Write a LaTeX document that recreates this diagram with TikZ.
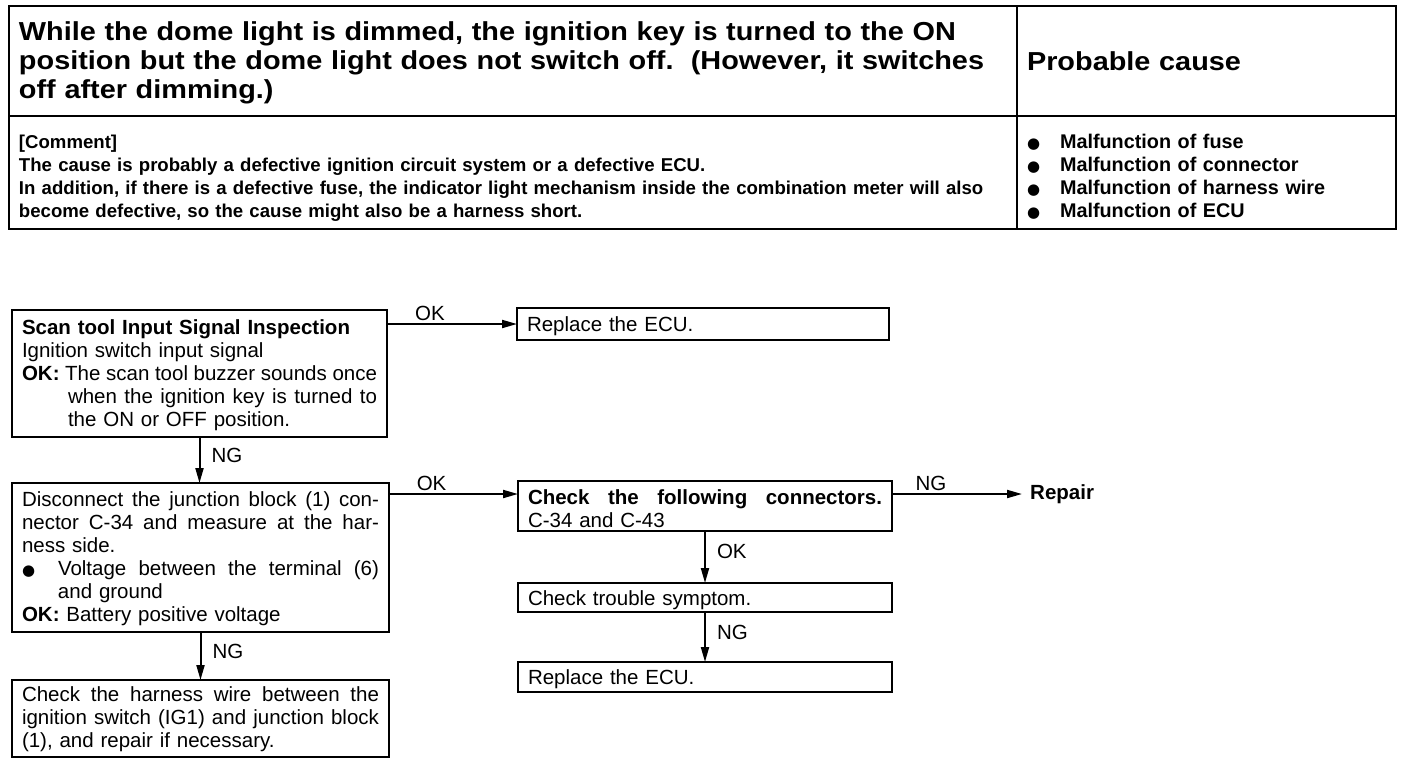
\documentclass[tikz,border=0pt]{standalone}
\usepackage{fontspec}
\setmainfont{Liberation Sans}
\newfontfamily\widesans[FakeStretch=1.11]{Liberation Sans}
\newfontfamily\dejavu{DejaVu Sans}
\usetikzlibrary{positioning,arrows.meta}
\newcommand\hdrfont{\widesans\bfseries\fontsize{26}{29}\selectfont}
\newcommand\cmtfont{\bfseries\fontsize{18.6}{23.3}\selectfont}
\newcommand\causefont{\bfseries\fontsize{19.8}{23.3}\selectfont}
\newcommand\flowfont{\fontsize{20.5}{23}\selectfont}
\newcommand\blt{{\dejavu\fontsize{15}{15}\selectfont ●}}
% justified line of a given width
\newcommand\jline[2]{\leavevmode\hbox to #1{\spaceskip=\fontdimen2\font plus 1fil minus .4\fontdimen2\font\relax #2}}
\tikzset{
  tablecell/.style={draw, line width=2.8pt, anchor=north west, inner xsep=10pt, inner ysep=0pt, outer sep=0pt, align=left},
  flowbox/.style={draw, line width=2pt, anchor=north west, inner xsep=10pt, inner ysep=0pt, outer sep=0pt, align=left, font=\flowfont},
  flowarrow/.style={-{Triangle[length=15pt, width=8pt]}, line width=2pt},
  flowlabel/.style={font=\flowfont, inner sep=2pt}
}
\begin{document}
\begin{tikzpicture}[x=1pt, y=-1pt]
  \useasboundingbox (0,0) rectangle (1408,764);
  % table
  \node[tablecell, text width=988pt, text height=34pt, text depth=76pt, font=\hdrfont] (symptom) at (9,6)
    {While the dome light is dimmed, the ignition key is turned to the ON\\
     position but the dome light does not switch off.\ \ (However, it switches\\
     off after dimming.)};
  \node[tablecell, text width=359pt, text height=64pt, text depth=46pt, font=\hdrfont] (cause) at (1017,6) {Probable cause};
  \node[tablecell, text width=988pt, text height=32pt, text depth=81pt, font=\cmtfont] (comment) at (9,116)
    {[Comment]\\
     The cause is probably a defective ignition circuit system or a defective ECU.\\
     In addition, if there is a defective fuse, the indicator light mechanism inside the combination meter will also\\
     become defective, so the cause might also be a harness short.};
  \node[tablecell, text width=359pt, text height=32pt, text depth=81pt, font=\causefont] (causelist) at (1017,116)
    {\makebox[33pt][l]{\blt}Malfunction of fuse\\
     \makebox[33pt][l]{\blt}Malfunction of connector\\
     \makebox[33pt][l]{\blt}Malfunction of harness wire\\
     \makebox[33pt][l]{\blt}Malfunction of ECU};
  % flow chart
  \node[flowbox, text width=355pt, text height=24pt, text depth=103pt] (scan) at (12,310)
    {\textbf{Scan tool Input Signal Inspection}\\
     Ignition switch input signal\\
     \jline{355pt}{\textbf{OK:} The scan tool buzzer sounds once}\\
     \hspace*{46pt}\jline{309pt}{when the ignition key is turned to}\\
     \hspace*{46pt}the ON or OFF position.};
  \node[flowbox, text width=352pt, text height=23pt, text depth=9pt] (ecu1) at (517,308) {Replace the ECU.};
  \node[flowbox, text width=357pt, text height=23pt, text depth=126pt] (jblock) at (12,483)
    {\jline{357pt}{Disconnect the junction block (1) con-}\\
     \jline{357pt}{nector C-34 and measure at the har-}\\
     ness side.\\
     \makebox[36pt][l]{\blt}\jline{321pt}{Voltage between the terminal (6)}\\
     \hspace*{36pt}and ground\\
     \textbf{OK:} Battery positive voltage};
  \node[flowbox, text width=354pt, text height=23pt, text depth=27pt] (conn) at (518,481)
    {\jline{354pt}{\bfseries Check the following connectors.}\\
     C-34 and C-43};
  \node[flowbox, text width=354pt, text height=22pt, text depth=7pt] (symcheck) at (518,583) {Check trouble symptom.};
  \node[flowbox, text width=354pt, text height=22pt, text depth=8pt] (ecu2) at (518,662) {Replace the ECU.};
  \node[flowbox, text width=357pt, text height=21pt, text depth=56pt] (harness) at (12,680)
    {\jline{357pt}{Check the harness wire between the}\\
     \jline{357pt}{ignition switch (IG1) and junction block}\\
     (1), and repair if necessary.};
  \node[font=\flowfont\bfseries, anchor=west, inner xsep=8pt, inner ysep=0pt] (repair) at (1022,494) {Repair};
  \coordinate (connin) at ([yshift=-13pt]conn.north west);
  % connectors
  \draw[flowarrow] (scan.east |- ecu1.west) -- node[flowlabel, above, pos=0.33] {OK} (ecu1.west);
  \draw[flowarrow] (scan.south) -- node[flowlabel, right=9pt, pos=0.4] {NG} (scan.south |- jblock.north);
  \draw[flowarrow] (jblock.east |- connin) -- node[flowlabel, above, pos=0.33] {OK} (connin);
  \draw[flowarrow] (conn.east |- connin) -- node[flowlabel, above, pos=0.3] {NG} (repair.west |- connin);
  \draw[flowarrow] (conn.south) -- node[flowlabel, right=9pt, pos=0.4] {OK} (symcheck.north);
  \draw[flowarrow] (symcheck.south) -- node[flowlabel, right=9pt, pos=0.4] {NG} (ecu2.north);
  \draw[flowarrow] (jblock.south) -- node[flowlabel, right=9pt, pos=0.4] {NG} (jblock.south |- harness.north);
\end{tikzpicture}
\end{document}
